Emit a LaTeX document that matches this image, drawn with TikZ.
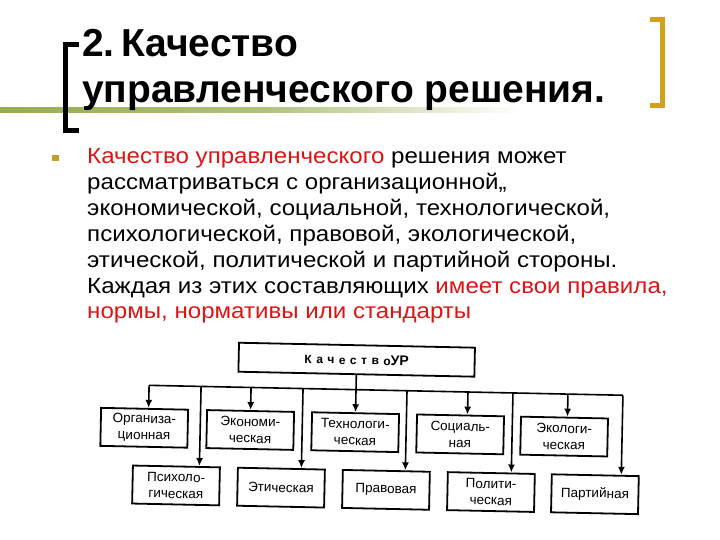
\documentclass[tikz,border=0pt]{standalone}
\usepackage{fontspec}
\setmainfont{Liberation Sans}
\usetikzlibrary{arrows.meta}
\definecolor{goldbr}{RGB}{212,160,22}
\definecolor{bullet}{RGB}{192,160,40}
\definecolor{redtx}{RGB}{220,20,20}
\definecolor{olivel}{RGB}{150,172,80}
\begin{document}
\begin{tikzpicture}[x=1pt,y=-1pt,
  title/.style={font=\fontsize{39}{46}\selectfont\bfseries, inner sep=0pt, anchor=base west},
  body/.style={font=\fontsize{22}{26}\selectfont, inner sep=0pt, anchor=base west, xscale=1.095},
  box/.style={draw, line width=1.8pt, minimum width=87pt, minimum height=38pt, align=center,
              font=\fontsize{13.5}{16.5}\selectfont, inner sep=1pt},
  topbox/.style={draw, line width=1.8pt, minimum width=236pt, minimum height=29pt, inner sep=1pt},
  conn/.style={line width=1.6pt},
  arr/.style={line width=1.6pt, -{Latex[length=8pt,width=7pt]}}]
\useasboundingbox (0,0) rectangle (720,540);
% decorative line and brackets
\shade[left color=olivel, right color=white, middle color=olivel!75] (0,108) rectangle (520,112.5);
\draw[line width=5pt, line cap=butt] (79,44.5) -- (65.5,44.5) -- (65.5,130.5) -- (79,130.5);
\draw[goldbr, line width=5pt] (650,19.5) -- (662.5,19.5) -- (662.5,105.5) -- (650,105.5);
% title
\node[title] (t1) at (82,57) {2.\,Качество};
\node[title] (t2) at (82,103) {управленческого решения.};
% bullet text
\fill[bullet] (52,155) rectangle (58.5,161.5);
\node[body] (l1) at (87,164) {\textcolor{redtx}{Качество управленческого} решения может};
\node[body] (l2) at (87,190) {рассматриваться с организационной,,};
\node[body] (l3) at (87,215.5) {экономической, социальной, технологической,};
\node[body] (l4) at (87,241) {психологической, правовой, экологической,};
\node[body] (l5) at (87,267) {этической, политической и партийной стороны.};
\node[body] (l6) at (87,293) {Каждая из этих составляющих \textcolor{redtx}{имеет свои правила,}};
\node[body] (l7) at (87,318.5) {\textcolor{redtx}{нормы, нормативы или стандарты}};
% diagram
\begin{scope}[rotate around={-1.2:(370,440)}, transform shape]
\node[topbox] (q) at (355,360) {\fontsize{12}{12}\selectfont\bfseries\addfontfeature{LetterSpace=38}Качество\fontsize{14}{14}\selectfont\addfontfeature{LetterSpace=0}УР};
\node[box] (org) at (144,432.5) {Организа-\\ционная};
\node[box] (eco) at (250,432.5) {Экономи-\\ческая};
\node[box] (tech) at (355,432.5) {Технологи-\\ческая};
\node[box] (soc) at (460,432.5) {Социаль-\\ная};
\node[box] (ecol) at (564,432.5) {Экологи-\\ческая};
\node[box] (psy) at (177,489.5) {Психоло-\\гическая};
\node[box] (eth) at (282,489.5) {Этическая};
\node[box] (law) at (387,489.5) {Правовая};
\node[box] (pol) at (492,489.5) {Полити-\\ческая};
\node[box] (party) at (596,489.5) {Партийная};
\coordinate (bL) at (148,390);
\coordinate (bR) at (622,390);
\coordinate (b2) at (250,390);
\coordinate (b4) at (467,390);
\coordinate (b5) at (567,390);
\coordinate (c1) at (200,390);
\coordinate (c2) at (302,390);
\coordinate (c3) at (406,390);
\coordinate (c4) at (512,390);
\draw[conn] (bL) -- (bR);
\draw[arr] (q.south) -- (tech.north);
\draw[arr] (bL) -- (bL |- org.north);
\draw[arr] (b2) -- (b2 |- eco.north);
\draw[arr] (b4) -- (b4 |- soc.north);
\draw[arr] (b5) -- (b5 |- ecol.north);
\draw[arr] (c1) -- (c1 |- psy.north);
\draw[arr] (c2) -- (c2 |- eth.north);
\draw[arr] (c3) -- (c3 |- law.north);
\draw[arr] (c4) -- (c4 |- pol.north);
\draw[arr] (bR) -- (bR |- party.north);
\end{scope}
\end{tikzpicture}
\end{document}
